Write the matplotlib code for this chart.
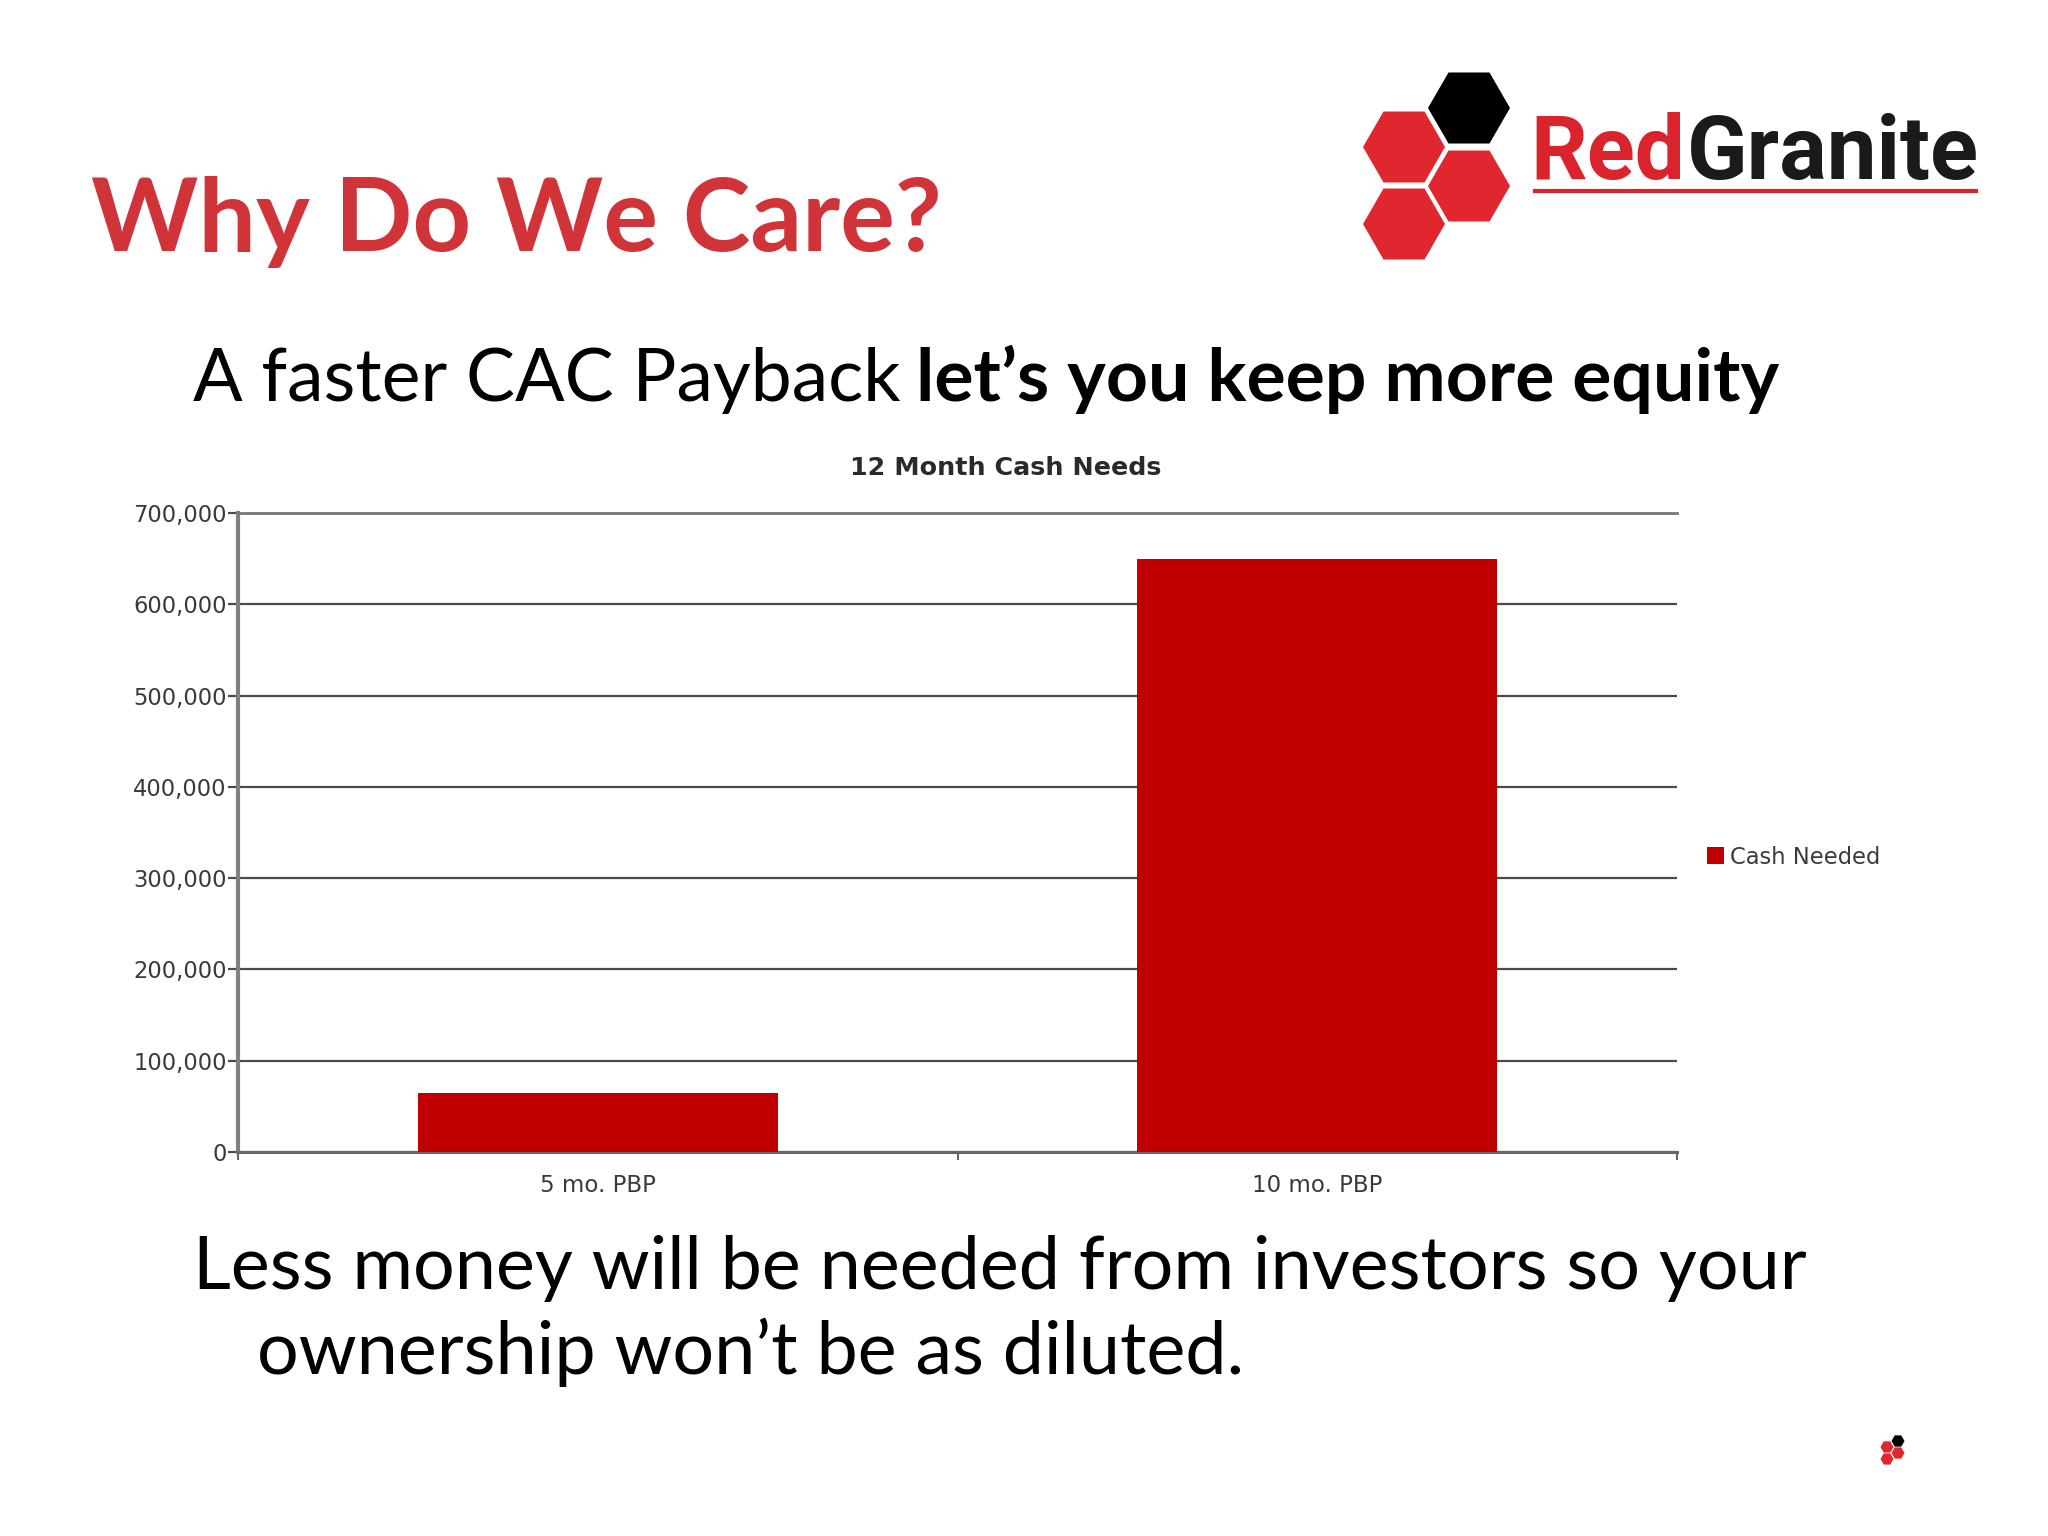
import matplotlib
matplotlib.use("Agg")
import matplotlib.pyplot as plt
import matplotlib.transforms as mtransforms
from matplotlib.patches import RegularPolygon
import numpy as np

# data
categories = ["5 mo. PBP", "10 mo. PBP"]
cash_needed = [65000, 650000]
series_name = "Cash Needed"
y_ticks = [0, 100000, 200000, 300000, 400000, 500000, 600000, 700000]

W, H = 2048, 1536
fig = plt.figure(figsize=(W / 100, H / 100), dpi=100)
fig.patch.set_facecolor("white")

# pixel coords measured from the top-left corner
pix = mtransforms.Affine2D().scale(1, -1).translate(0, H).scale(1 / W, 1 / H) + fig.transFigure

RED = "#d13438"
BAR = "#c00000"
GRID = "#4a4a4a"

# headings
fig.text(91, 251, "Why Do We Care?", transform=pix, fontsize=73.5, family="Lato",
         fontweight="bold", color=RED, va="baseline")
sub1 = fig.text(193, 401, "A faster CAC Payback", transform=pix, fontsize=52.8,
                family="Lato", color="black", va="baseline")
fig.add_artist(plt.Annotation("let\u2019s you keep more equity", xy=(1, 0), xycoords=sub1,
                              xytext=(15, 0), textcoords="offset pixels", va="bottom",
                              fontsize=52.8, family="Lato", fontweight="bold", color="black"))

fig.text(193, 1289, "Less money will be needed from investors so your", transform=pix,
         fontsize=53, family="Lato", color="black", va="baseline")
fig.text(257, 1374, "ownership won\u2019t be as diluted.", transform=pix,
         fontsize=53, family="Lato", color="black", va="baseline")

# logo
r_draw = 41
hex_centers = [(1469, 108, "black"), (1404, 147, "#e0262f"), (1469, 186, "#e0262f"), (1404, 224, "#e0262f")]
for cx, cy, c in hex_centers:
    fig.add_artist(RegularPolygon((cx, cy), 6, radius=r_draw, orientation=np.pi / 6,
                                  transform=pix, facecolor=c, edgecolor="none"))
logo1 = fig.text(1530, 179, "Red", transform=pix, fontsize=64, family="Roboto",
                 fontweight="bold", color="#d9232d", va="baseline")
fig.add_artist(plt.Annotation("Granite", xy=(1, 0), xycoords=logo1, xytext=(2, 0),
                              textcoords="offset pixels", va="bottom", fontsize=64,
                              family="Roboto", fontweight="bold", color="#1a1a1a"))
fig.add_artist(plt.Line2D([1535, 1976], [191, 191], transform=pix, color="#d9232d", lw=3))

# small logo bottom right
for cx, cy, c in [(1898, 1441, "black"), (1887, 1447, "#e0262f"), (1898, 1453, "#e0262f"), (1887, 1459, "#e0262f")]:
    fig.add_artist(RegularPolygon((cx, cy), 6, radius=6.5, orientation=np.pi / 6,
                                  transform=pix, facecolor=c, edgecolor="none"))

# chart
ax = fig.add_axes([238 / W, 1 - 1152 / H, (1677 - 238) / W, (1152 - 513) / H])
x = np.arange(len(categories))
ax.bar(x, cash_needed, width=0.5, color=BAR, label=series_name, zorder=3)
ax.set_xlim(-0.5, len(categories) - 0.5)
ax.set_ylim(0, 700000)
ax.set_yticks(y_ticks)
ax.set_yticklabels([f"{v:,}" for v in y_ticks])
ax.set_xticks(x)
ax.set_xticklabels(categories)
ax.set_xticks(np.arange(-0.5, len(categories), 1.0), minor=True)

ax.yaxis.grid(True, color=GRID, lw=1.6, zorder=0)
ax.set_axisbelow(True)
ax.spines["right"].set_visible(False)
ax.spines["top"].set_color("#777777")
ax.spines["top"].set_linewidth(2)
ax.spines["left"].set_color("#808080")
ax.spines["left"].set_linewidth(3)
ax.spines["bottom"].set_color("#666666")
ax.spines["bottom"].set_linewidth(2.2)

ax.tick_params(axis="y", direction="out", length=7, width=1.6, color=GRID, pad=1,
               labelsize=16.3, labelcolor="#3a3a3a")
ax.tick_params(axis="x", which="major", length=0, pad=16, labelsize=16.5, labelcolor="#3a3a3a")
ax.tick_params(axis="x", which="minor", direction="out", length=6, width=1.5, color="#666666")

fig.text(1006, 475, "12 Month Cash Needs", transform=pix, fontsize=18.3, fontweight="bold",
         color="#2a2a2a", ha="center", va="baseline")

leg = ax.legend(loc="center left", bbox_to_anchor=(1707 / W, 1 - 857 / H),
                bbox_transform=fig.transFigure, frameon=False, fontsize=16.3,
                handlelength=0.75, handleheight=0.75, handletextpad=0.25,
                borderpad=0, borderaxespad=0)
for t in leg.get_texts():
    t.set_color("#3a3a3a")

fig.savefig("out.png", dpi=100, facecolor="white")
